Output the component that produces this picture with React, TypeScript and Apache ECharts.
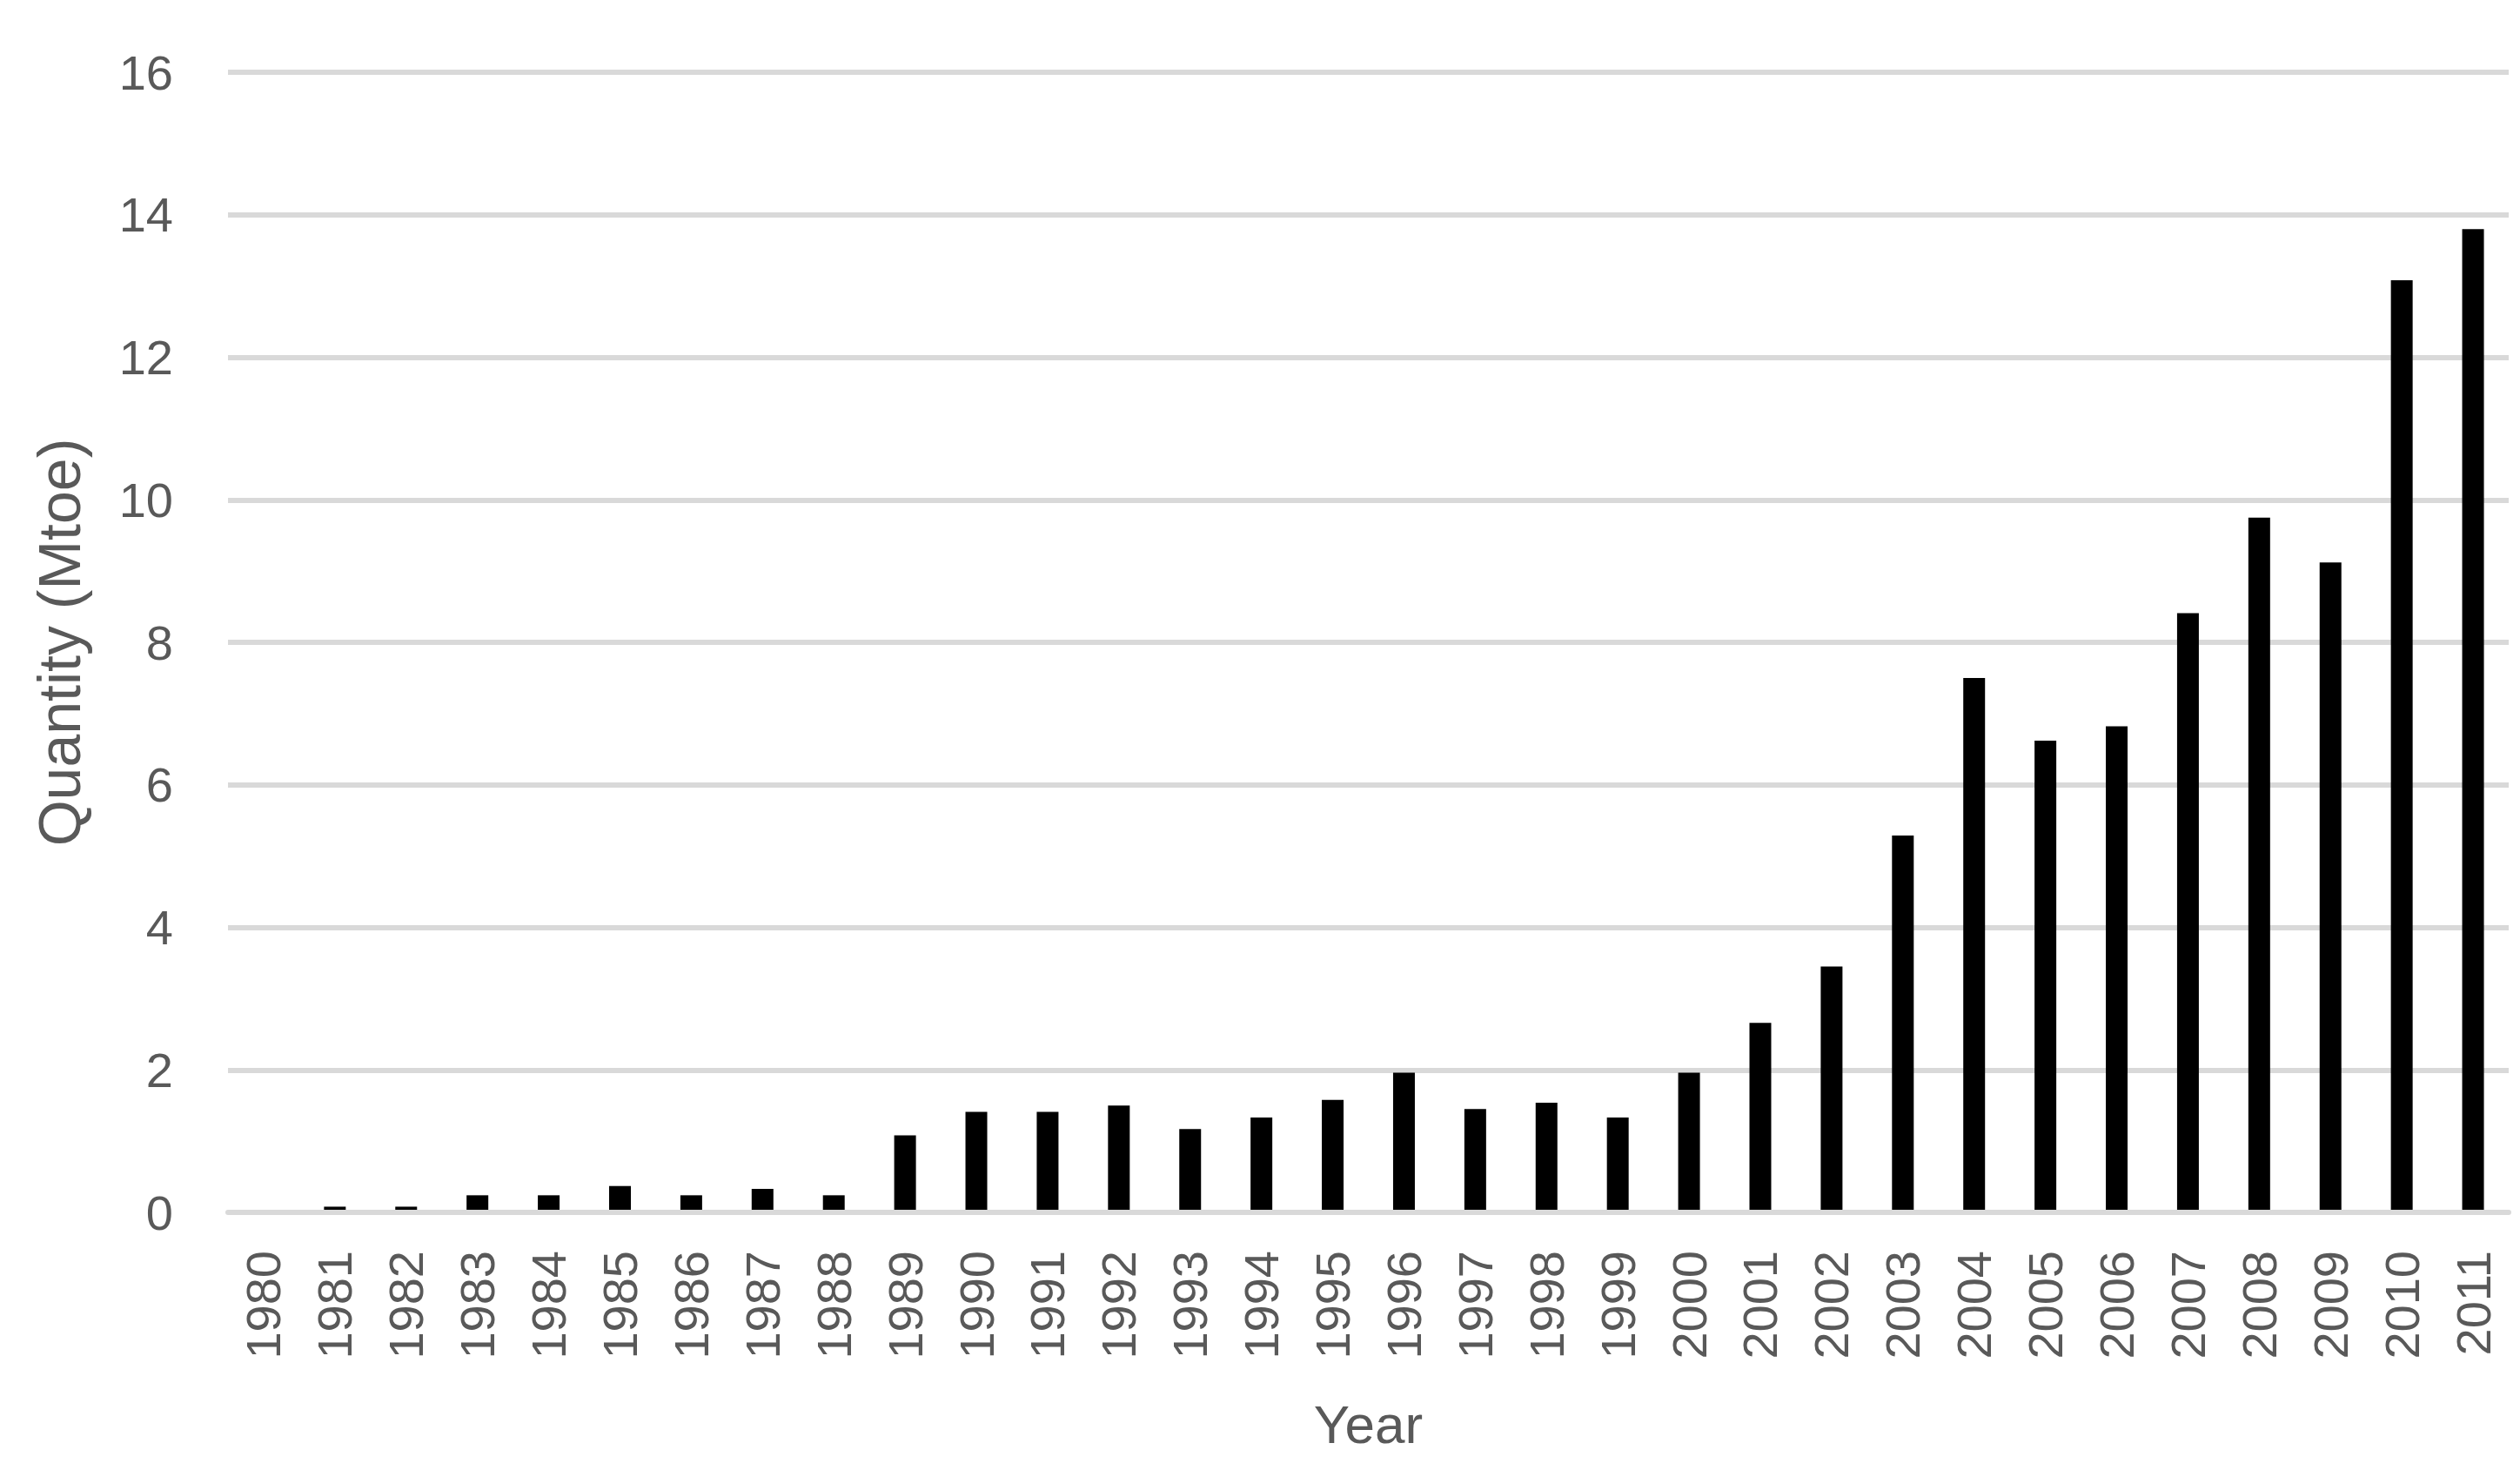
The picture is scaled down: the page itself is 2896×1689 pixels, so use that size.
import React, { useEffect, useRef } from "react";
import * as echarts from "echarts";

const years = [
  "1980", "1981", "1982", "1983", "1984", "1985", "1986", "1987", "1988", "1989",
  "1990", "1991", "1992", "1993", "1994", "1995", "1996", "1997", "1998", "1999",
  "2000", "2001", "2002", "2003", "2004", "2005", "2006", "2007", "2008", "2009",
  "2010", "2011",
];
const quantity = [
  0, 0.08, 0.08, 0.24, 0.24, 0.37, 0.24, 0.33, 0.24, 1.08,
  1.41, 1.41, 1.5, 1.17, 1.33, 1.58, 1.96, 1.45, 1.54, 1.33,
  1.96, 2.66, 3.45, 5.29, 7.5, 6.62, 6.82, 8.41, 9.75, 9.12,
  13.08, 13.8,
];
const yTitle = "Quantity (Mtoe)";
const xTitle = "Year";

const TEXT = "#595959";
const GRID = "#d9d9d9";
const FONT = "'Liberation Sans', Arial, sans-serif";

export default function App() {
  const ref = useRef<HTMLDivElement>(null);
  useEffect(() => {
    if (!ref.current) return;
    const chart = echarts.init(ref.current, null, { renderer: "svg" });
    chart.setOption({
      animation: false,
      backgroundColor: "#ffffff",
      grid: { left: 262, right: 13, top: 83, bottom: 296, containLabel: false },
      xAxis: {
        type: "category",
        data: years,
        z: 3,
        axisTick: { show: false },
        axisLine: { show: true, lineStyle: { color: GRID, width: 6 } },
        axisLabel: {
          rotate: 90,
          interval: 0,
          margin: 44,
          color: TEXT,
          fontSize: 56,
          fontFamily: FONT,
        },
        name: xTitle,
        nameLocation: "middle",
        nameGap: 212,
        nameTextStyle: {
          color: TEXT,
          fontSize: 62,
          fontFamily: FONT,
        },
      },
      yAxis: {
        type: "value",
        min: 0,
        max: 16,
        interval: 2,
        axisLine: { show: false },
        axisTick: { show: false },
        splitLine: { show: true, lineStyle: { color: GRID, width: 6 } },
        axisLabel: {
          margin: 63,
          color: TEXT,
          fontSize: 56,
          fontFamily: FONT,
        },
      },
      graphic: [
        {
          type: "text",
          x: 68,
          y: 738,
          rotation: Math.PI / 2,
          style: {
            text: yTitle,
            fill: TEXT,
            fontSize: 68,
            fontFamily: FONT,
            textAlign: "center",
            textVerticalAlign: "middle",
          },
        },
      ],
      series: [
        {
          type: "bar",
          data: quantity,
          barWidth: 25,
          itemStyle: { color: "#000000" },
        },
      ],
    });
    return () => chart.dispose();
  }, []);
  return (
    <div
      ref={ref}
      style={{ position: "absolute", left: 0, top: 0, width: 2896, height: 1689 }}
    />
  );
}
